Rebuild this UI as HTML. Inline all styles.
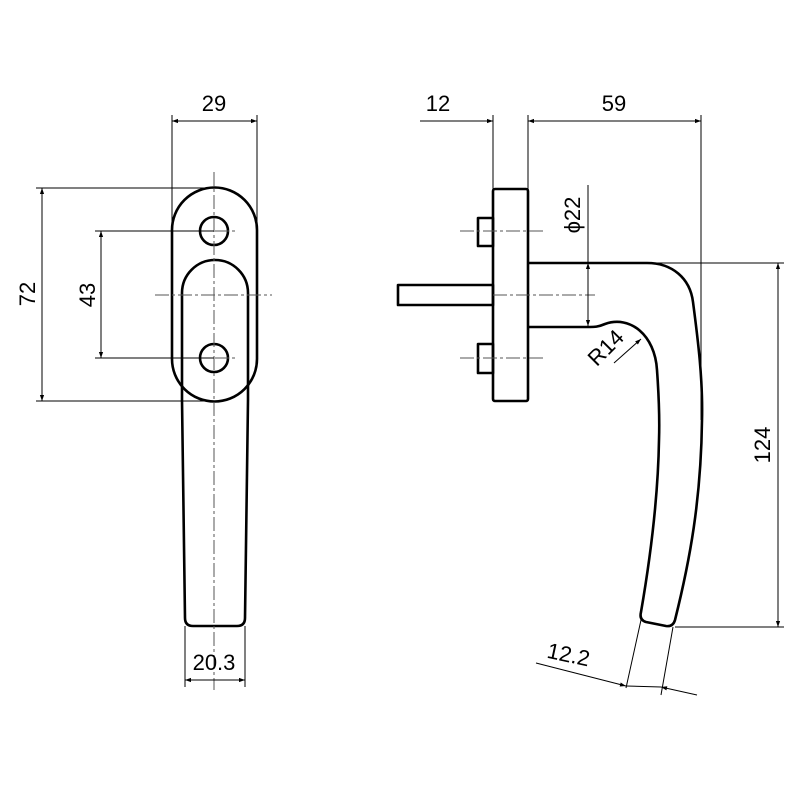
<!DOCTYPE html>
<html><head><meta charset="utf-8"><style>html,body{margin:0;padding:0;background:#fff}svg{display:block}</style></head><body>
<svg width="800" height="800" viewBox="0 0 800 800" xmlns="http://www.w3.org/2000/svg" font-family="Liberation Sans, sans-serif">
<defs>
<marker id="a" viewBox="0 0 10 10" refX="10" refY="5" markerWidth="14" markerHeight="6" markerUnits="userSpaceOnUse" orient="auto-start-reverse"><path d="M0,1.5 L10,5 L0,8.5 z" fill="#000"/></marker>
</defs>
<g fill="none" stroke="#000" stroke-width="2.6" stroke-linejoin="round">
<path d="M172,230 A42.5,42.5 0 0 1 257,230 L257,359 A42.5,42.5 0 0 1 172,359 Z"/>
<path d="M182,400 L182,293 A33,33 0 0 1 248,293 L248,400"/>
<path d="M182,400 L185,618 Q185,626 193,626 L237,626 Q245,626 245,618 L248,400"/>
<circle cx="214" cy="231" r="14"/>
<circle cx="214" cy="358" r="14"/>
<rect x="493" y="189" width="35" height="212" rx="2"/>
<rect x="478" y="218" width="15" height="28"/>
<rect x="478" y="344" width="15" height="29"/>
<rect x="398" y="285" width="95" height="20"/>
<path d="M528,263 L647,263 C672,263 690,278 693,302 C698,340 703,380 702,420 C701,500 690,560 675,620 Q673,627 666,626 L646,622 Q639,620 641,612 C650,560 658,500 659,440 C660,410 658,385 657,370 C655,335 630,315 605,324 C598,327 594,327 590,327 L528,327"/>
</g>
<g fill="none" stroke="#000" stroke-width="1">
<path d="M214,172 L214,690 M155,295 L272,295 M192,231 L236,231 M192,358 L236,358 M460,231 L545,231 M460,358 L545,358 M493,295 L595,295" stroke="#555" stroke-dasharray="14,3,3,3"/>
<path d="M172,115 L172,225 M257,115 L257,225"/>
<path d="M172,121 L257,121" marker-start="url(#a)" marker-end="url(#a)"/>
<path d="M36,188 L214,188 M36,401 L214,401"/>
<path d="M42,188 L42,401" marker-start="url(#a)" marker-end="url(#a)"/>
<path d="M95,231 L214,231 M95,358 L214,358"/>
<path d="M101,231 L101,358" marker-start="url(#a)" marker-end="url(#a)"/>
<path d="M185,626 L185,687 M245,626 L245,687"/>
<path d="M185,680 L245,680" marker-start="url(#a)" marker-end="url(#a)"/>
<path d="M493,115 L493,189 M528,115 L528,189 M701,115 L701,420"/>
<path d="M420,121 L493,121" marker-end="url(#a)"/>
<path d="M528,121 L701,121" marker-start="url(#a)" marker-end="url(#a)"/>
<path d="M588,185 L588,262" />
<path d="M588,295 L588,263" marker-end="url(#a)"/>
<path d="M588,295 L588,326" marker-end="url(#a)"/>
<path d="M655,263 L784,263 M675,627 L784,627"/>
<path d="M778,263 L778,627" marker-start="url(#a)" marker-end="url(#a)"/>
<path d="M614,363 L641,339" marker-end="url(#a)"/>
<path d="M641,620 L626,688 M673,627 L661,695"/>
<path d="M536,663 L626,686" marker-end="url(#a)"/>
<path d="M697,695 L661,687" marker-end="url(#a)"/>
<path d="M626,686 L661,687"/>
</g>
<g font-size="22" fill="#000" text-anchor="middle">
<text x="214" y="111">29</text>
<text x="438" y="111">12</text>
<text x="614" y="111">59</text>
<text x="214" y="670">20.3</text>
<text transform="translate(35,294) rotate(-90)">72</text>
<text transform="translate(95,295) rotate(-90)">43</text>
<text transform="translate(580,215) rotate(-90)">ϕ22</text>
<text transform="translate(770,445) rotate(-90)">124</text>
<text transform="translate(611,353) rotate(-45)">R14</text>
<text transform="translate(567,662) rotate(12)">12.2</text>
</g>
</svg>
</body></html>
